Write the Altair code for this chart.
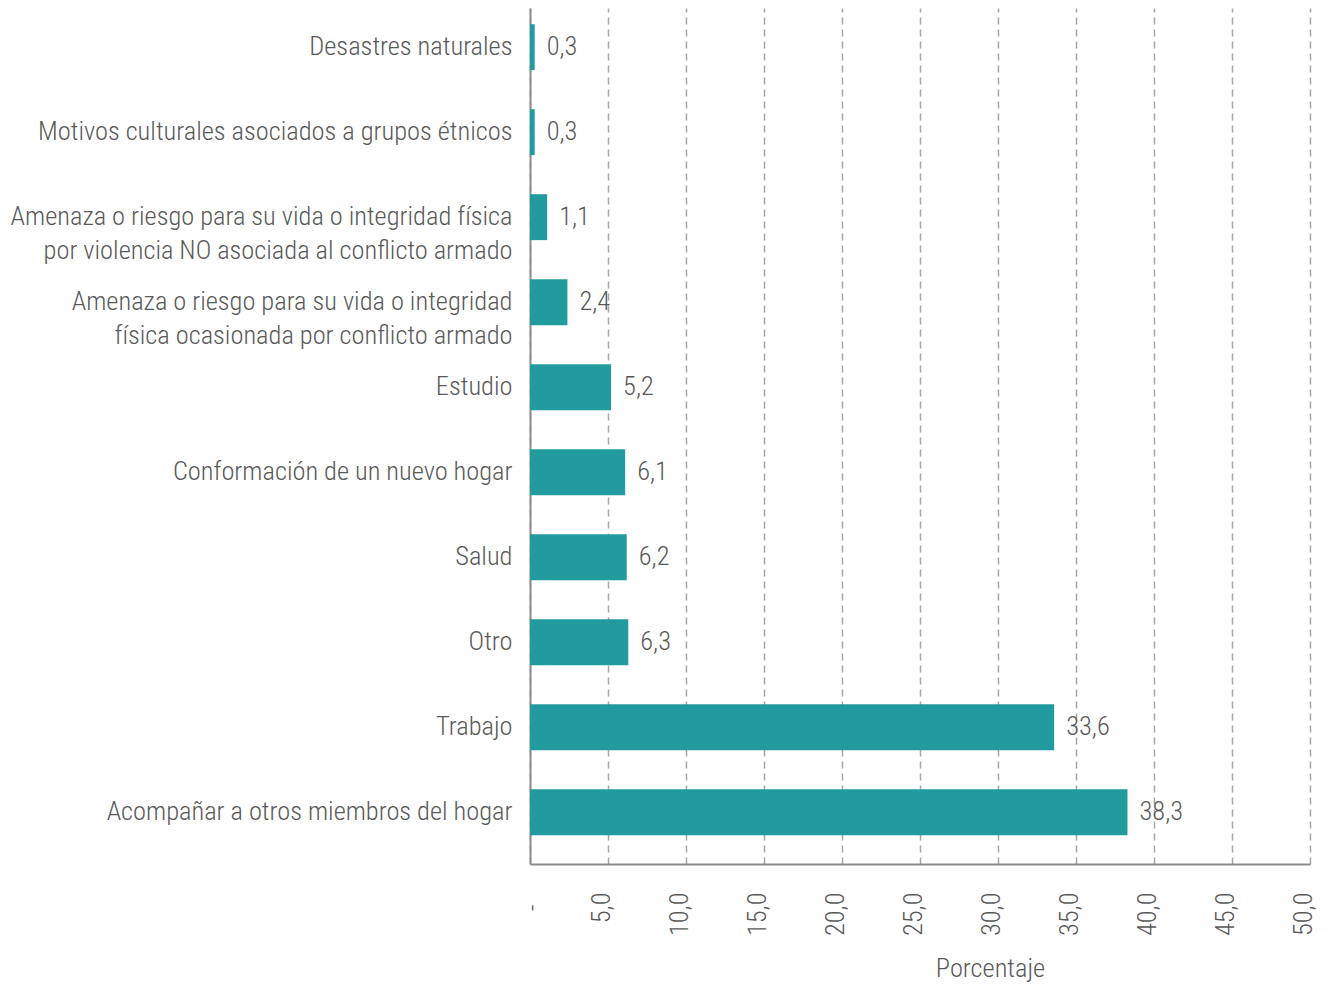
import altair as alt
import pandas as pd

categories = [
    "Desastres naturales",
    "Motivos culturales asociados a grupos étnicos",
    "Amenaza o riesgo para su vida o integridad física\npor violencia NO asociada al conflicto armado",
    "Amenaza o riesgo para su vida o integridad\nfísica ocasionada por conflicto armado",
    "Estudio",
    "Conformación de un nuevo hogar",
    "Salud",
    "Otro",
    "Trabajo",
    "Acompañar a otros miembros del hogar",
]
values = [0.3, 0.3, 1.1, 2.4, 5.2, 6.1, 6.2, 6.3, 33.6, 38.3]
x_ticks = [0, 5, 10, 15, 20, 25, 30, 35, 40, 45, 50]

df = pd.DataFrame({"cat": categories, "val": values})
df["lbl"] = [f"{v:.1f}".replace(".", ",") for v in values]

FONT = "Roboto Condensed"
FS = 26.4
FW = 300
TXT = "#595959"

y_enc = alt.Y(
    "cat:N",
    sort=categories,
    title=None,
    scale=alt.Scale(paddingInner=0.46, paddingOuter=0.265, align=0.36),
    axis=alt.Axis(
        labelExpr="split(datum.label, '\\n')",
        labelFont=FONT,
        labelFontSize=FS,
        labelFontWeight=FW,
        labelColor=TXT,
        labelLineHeight=34,
        labelLimit=600,
        labelPadding=18,
        ticks=False,
        domainColor="#8c8c8c",
        domainWidth=2,
        grid=False,
    ),
)

x_enc = alt.X(
    "val:Q",
    title="Porcentaje",
    scale=alt.Scale(domain=[0, 50], nice=False),
    axis=alt.Axis(
        values=x_ticks,
        labelExpr="datum.value == 0 ? '-' : replace(format(datum.value, '.1f'), '.', ',')",
        labelAngle=-90,
        labelFont=FONT,
        labelFontSize=FS,
        labelFontWeight=FW,
        labelColor=TXT,
        labelPadding={"condition": {"test": "datum.value == 0", "value": 40}, "value": 28},
        labelOffset={"condition": {"test": "datum.value == 0", "value": 2}, "value": -7},
        ticks=False,
        domainColor="#8c8c8c",
        domainWidth=2,
        grid=True,
        gridColor="#a6a6a6",
        gridDash=[7, 5],
        gridWidth=1.5,
        titleFont=FONT,
        titleFontSize=FS,
        titleFontWeight=FW,
        titleColor=TXT,
        titleX=460,
        titleY=104,
        titleBaseline="middle",
        titleAnchor="middle",
    ),
)

base = alt.Chart(df)
bars = base.mark_bar(color="#219b9d").encode(y=y_enc, x=x_enc)
labels = base.mark_text(
    align="left", baseline="middle", dx=12, font=FONT, fontSize=FS, fontWeight=FW, color=TXT
).encode(y=alt.Y("cat:N", sort=categories), x="val:Q", text="lbl:N")

chart = (
    alt.layer(bars, labels)
    .properties(
        width=780,
        height=856,
        autosize=alt.AutoSizeParams(type="none"),
        padding={"left": 522, "top": 0, "right": 10, "bottom": 119},
    )
    .configure_view(stroke=None)
)

chart.save("out.html", embed_options={"renderer": "svg", "actions": False})
